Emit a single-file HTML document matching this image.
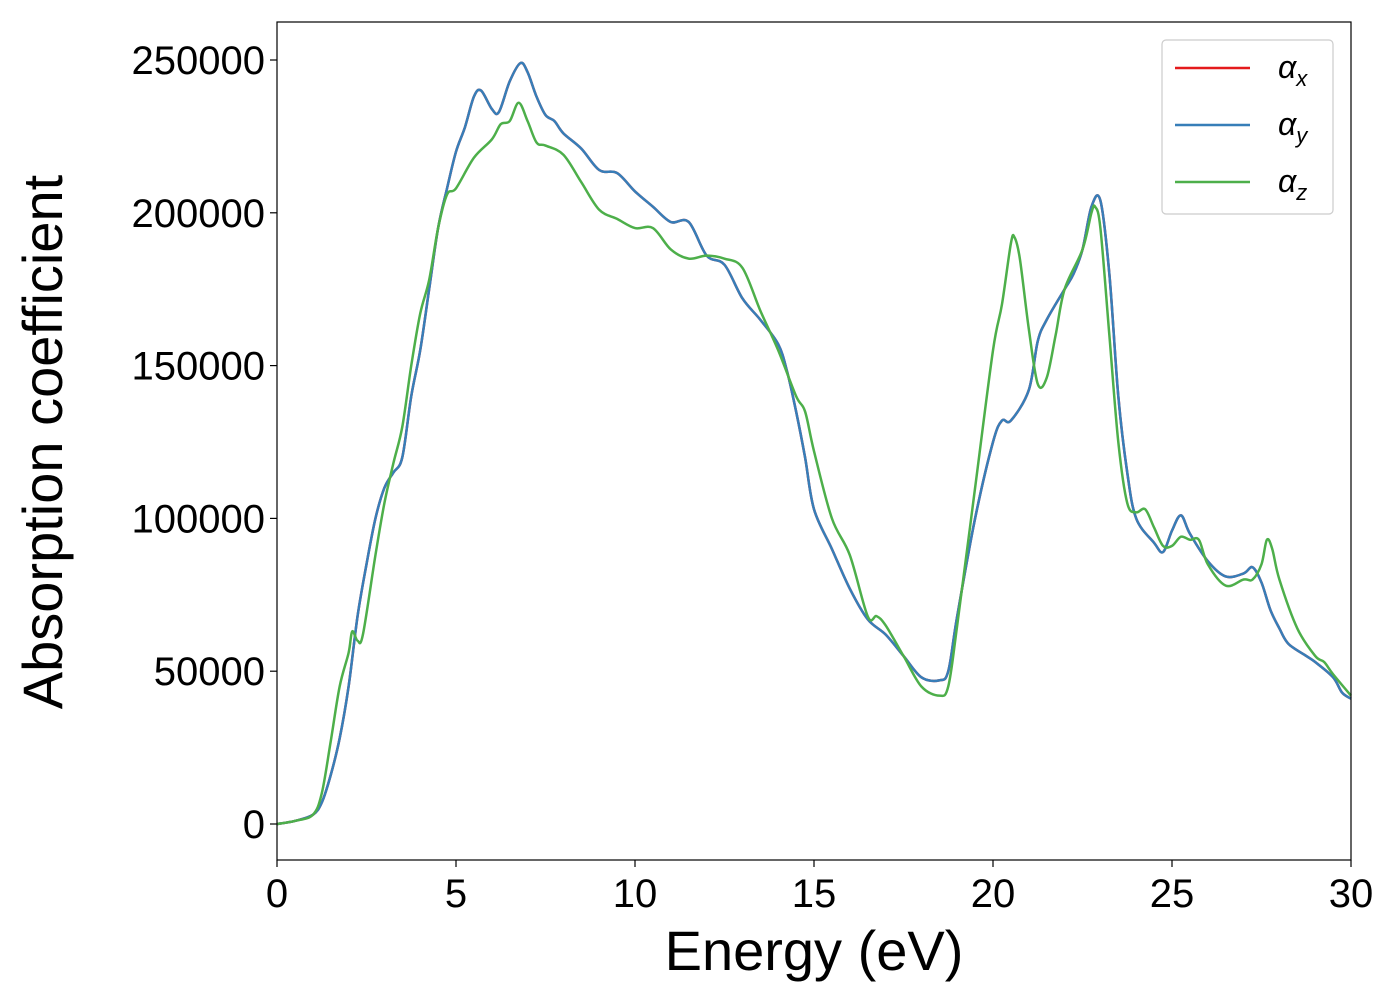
<!DOCTYPE html>
<html><head><meta charset="utf-8"><style>
body{margin:0;background:#fff;}
svg text{font-family:"Liberation Sans","DejaVu Sans",sans-serif;fill:#000;}
</style></head><body>
<svg width="1400" height="1000" xmlns="http://www.w3.org/2000/svg">
<g id="plot"></g>
</svg>
<script>
const xTicks=[0,5,10,15,20,25,30];
const yTicks=[0,50000,100000,150000,200000,250000];
const blueE=[0,0.5,1,1.25,1.5,1.75,2,2.25,2.5,2.75,3,3.25,3.5,3.75,4,4.25,4.5,4.75,5,5.25,5.5,5.7,6,6.2,6.5,6.8,7,7.25,7.5,7.75,8,8.5,9,9.5,10,10.5,11,11.5,12,12.5,13,13.5,14,14.25,14.5,14.75,15,15.5,16,16.5,17,17.5,18,18.5,18.75,19,19.5,20,20.25,20.5,21,21.25,21.5,22,22.25,22.5,22.75,23,23.25,23.5,23.75,24,24.5,24.75,25,25.25,25.5,26,26.5,27,27.25,27.5,27.75,28,28.25,28.75,29,29.5,29.75,30];
const blueA=[0,1,3,7,16,28,45,68,85,100,110,115,120,140,155,175,195,208,220,228,238,240,234,233,243,249,246,238,232,230,226,221,214,213,207,202,197,197,186,183,172,165,157,148,135,120,103,90,77,67,62,55,48,47,50,68,100,125,132,132,142,158,165,175,180,188,202,204,180,140,115,100,92,89,96,101,95,86,81,82,84,79,70,64,59,55,53,48,43,41];
const greenE=[0,0.5,1,1.25,1.5,1.75,2,2.1,2.25,2.4,2.75,3,3.25,3.5,3.75,4,4.25,4.5,4.75,5,5.5,6,6.25,6.5,6.75,7,7.25,7.5,8,8.5,9,9.5,10,10.5,11,11.5,12,12.5,13,13.5,14,14.5,14.75,15,15.5,16,16.5,16.75,17,17.5,18,18.5,18.75,19,19.5,20,20.25,20.5,20.6,20.75,21,21.25,21.5,21.75,22,22.5,22.75,22.85,23,23.25,23.5,23.75,24,24.25,24.5,24.75,25,25.25,25.5,25.75,26,26.5,27,27.25,27.5,27.65,27.8,28,28.5,29,29.25,29.5,30];
const greenA=[0,1,3,10,27,45,56,63,60,62,88,105,118,130,150,167,178,195,206,208,218,224,229,230,236,230,223,222,219,210,201,198,195,195,188,185,186,185,182,168,155,140,135,122,100,88,68,68,65,55,45,42,45,65,110,155,170,190,192,185,162,144,146,160,175,188,200,202,195,160,125,105,102,103,97,91,91,94,93,93,85,78,80,80,85,93,90,80,64,55,53,49,42];
const L=277,R=1351,T=22,B=860;
const xs=v=>L+(v-0)/(30-0)*(R-L);
const ys=v=>824-v*(764/250000);
const g=document.getElementById('plot');
const NS='http://www.w3.org/2000/svg';
function mk(t,a){const e=document.createElementNS(NS,t);for(const k in a)e.setAttribute(k,a[k]);g.appendChild(e);return e;}
function path(E,A){
  const p=E.map((e,i)=>[xs(e),ys(A[i]*1000)]);
  let d='M'+p[0][0]+','+p[0][1];
  for(let i=0;i<p.length-1;i++){
    const p0=p[Math.max(i-1,0)],p1=p[i],p2=p[i+1],p3=p[Math.min(i+2,p.length-1)];
    const c1=[p1[0]+(p2[0]-p0[0])/6,p1[1]+(p2[1]-p0[1])/6];
    const c2=[p2[0]-(p3[0]-p1[0])/6,p2[1]-(p3[1]-p1[1])/6];
    d+=' C'+c1+' '+c2+' '+p2;
  }
  return d;
}
let e;
e=mk('path',{d:path(blueE,blueA),fill:'none',stroke:'#e41a1c','stroke-width':2.5});


e=mk('path',{d:path(blueE,blueA),fill:'none',stroke:'#377eb8','stroke-width':2.5});


e=mk('path',{d:path(greenE,greenA),fill:'none',stroke:'#4daf4a','stroke-width':2.5});


e=mk('rect',{x:L,y:T,width:R-L,height:B-T,fill:'none',stroke:'#000','stroke-width':1.2});


xTicks.forEach(v=>{
  mk('line',{x1:xs(v),x2:xs(v),y1:B,y2:B+7,stroke:'#000','stroke-width':1.2});
  e=mk('text',{x:xs(v),y:B+47,'text-anchor':'middle','font-size':40});e.textContent=v;
  
  
});
yTicks.forEach(v=>{
  mk('line',{x1:L-7,x2:L,y1:ys(v),y2:ys(v),stroke:'#000','stroke-width':1.2});
  e=mk('text',{x:L-12,y:ys(v)+14,'text-anchor':'end','font-size':40});e.textContent=v;
  
  
});
e=mk('text',{x:814,y:970,'text-anchor':'middle','font-size':56});e.textContent='Energy (eV)';


e=mk('text',{x:0,y:0,'text-anchor':'middle','font-size':56,transform:'translate(62,442) rotate(-90)'});e.textContent='Absorption coefficient';


e=mk('rect',{x:1162,y:40,width:171,height:174,rx:4,fill:'#fff',stroke:'#ccc','stroke-width':1.2});


const legC=['#e41a1c','#377eb8','#4daf4a'],legS=['x','y','z'];
legS.forEach((s,i)=>{
  const y=68+i*57;
  mk('line',{x1:1175,x2:1250,y1:y,y2:y,stroke:legC[i],'stroke-width':2.5});
  e=mk('text',{x:1278,y:y+10,'font-size':32,'font-style':'italic'});
  e.innerHTML='α<tspan font-size="22" dy="8">'+s+'</tspan>';
  
  
});
</script>
</body></html>
